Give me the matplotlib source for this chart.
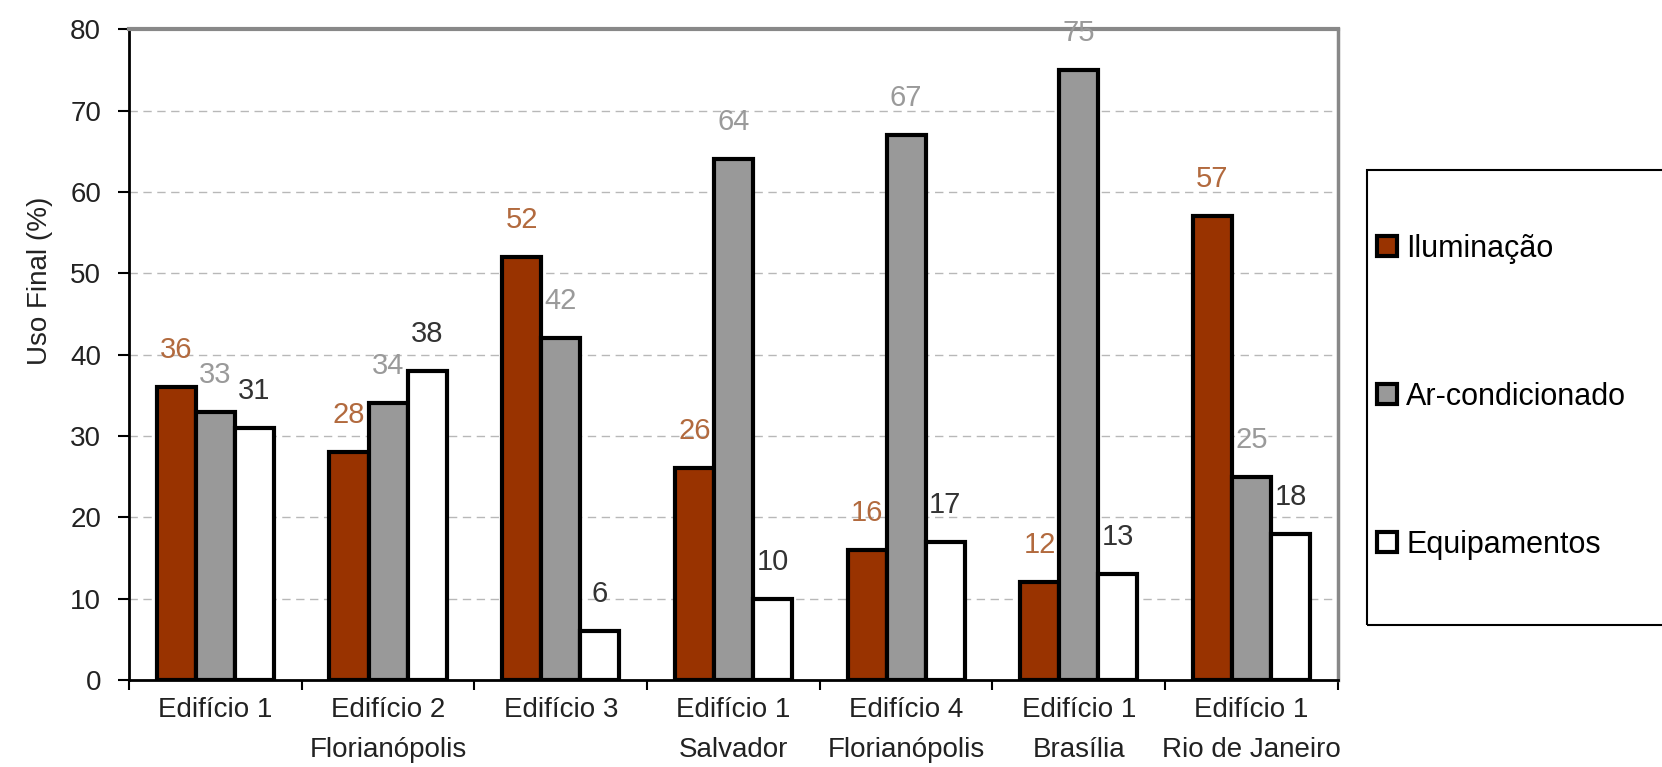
import matplotlib
matplotlib.use("Agg")
import matplotlib.pyplot as plt
from matplotlib.patches import Rectangle
import numpy as np

# data
categories = ["Edifício 1", "Edifício 2\nFlorianópolis", "Edifício 3",
              "Edifício 1\nSalvador", "Edifício 4\nFlorianópolis",
              "Edifício 1\nBrasília", "Edifício 1\nRio de Janeiro"]
series_names = ["Iluminação", "Ar-condicionado", "Equipamentos"]
iluminacao = [36, 28, 52, 26, 16, 12, 57]
ar_cond = [33, 34, 42, 64, 67, 75, 25]
equipamentos = [31, 38, 6, 10, 17, 13, 18]
y_ticks = [0, 10, 20, 30, 40, 50, 60, 70, 80]

plt.rcParams['font.family'] = ['Liberation Sans', 'DejaVu Sans']
FS = 20

fig = plt.figure(figsize=(16.62, 7.67), dpi=100)
ax = fig.add_axes([0.0776, 0.1134, 0.8050 - 0.0776, 0.962 - 0.1134])

x = np.arange(len(categories)) + 0.5
w = 0.226
fills = ["#993300", "#999999", "#ffffff"]
lab_cols = ["#B26A3E", "#9a9a9a", "#333333"]
all_vals = [iluminacao, ar_cond, equipamentos]

handles = []
for i, vals in enumerate(all_vals):
    bars = ax.bar(x + (i - 1) * w, vals, width=w, color=fills[i],
                  edgecolor="black", linewidth=3, zorder=3)
    handles.append(bars)
    for xi, v in zip(x + (i - 1) * w, vals):
        ax.annotate(str(v), (xi, v), xytext=(0, 37), textcoords="offset pixels",
                    ha="center", va="center", fontsize=FS + 1, color=lab_cols[i],
                    zorder=5, annotation_clip=False)

ax.set_xlim(0, len(categories))
ax.set_ylim(0, 80)
ax.set_yticks(y_ticks)
ax.tick_params(axis="y", length=8, width=1.5, pad=12, labelsize=FS, labelcolor="#222222")

# ticks at the category borders, labels at the centers
ax.set_xticks(np.arange(len(categories) + 1))
ax.set_xticklabels([])
ax.set_xticks(x, minor=True)
ax.set_xticklabels(categories, minor=True, fontsize=FS, color="#222222", linespacing=1.7)
ax.tick_params(axis="x", which="major", length=7, width=1.5)
ax.tick_params(axis="x", which="minor", length=0, pad=12)

ax.grid(axis="y", color="#b8b8b8", linestyle=(0, (6, 4)), linewidth=1, zorder=0)

ax.spines["left"].set_linewidth(2)
ax.spines["bottom"].set_linewidth(2)
ax.spines["top"].set_color("#888888")
ax.spines["top"].set_linewidth(3)
ax.spines["right"].set_color("#888888")
ax.spines["right"].set_linewidth(2.5)

ax.set_ylabel("Uso Final (%)", fontsize=FS, color="#222222")
ax.yaxis.set_label_coords(-0.063, 0.613)

# legend box runs off the right edge of the figure
fig.patches.append(Rectangle((1367 / 1662, (767 - 625) / 767), 0.3, (625 - 170) / 767,
                             transform=fig.transFigure, fill=False,
                             edgecolor="black", linewidth=1.5))
fig.legend(handles, series_names, loc="upper left",
           bbox_to_anchor=(1377 / 1662, (767 - 234) / 767), frameon=False,
           fontsize=FS + 2, handlelength=0.65, handleheight=0.65, handletextpad=0.3,
           labelspacing=3.86, borderpad=0, borderaxespad=0)

fig.savefig("out.png", dpi=100, facecolor="white")
